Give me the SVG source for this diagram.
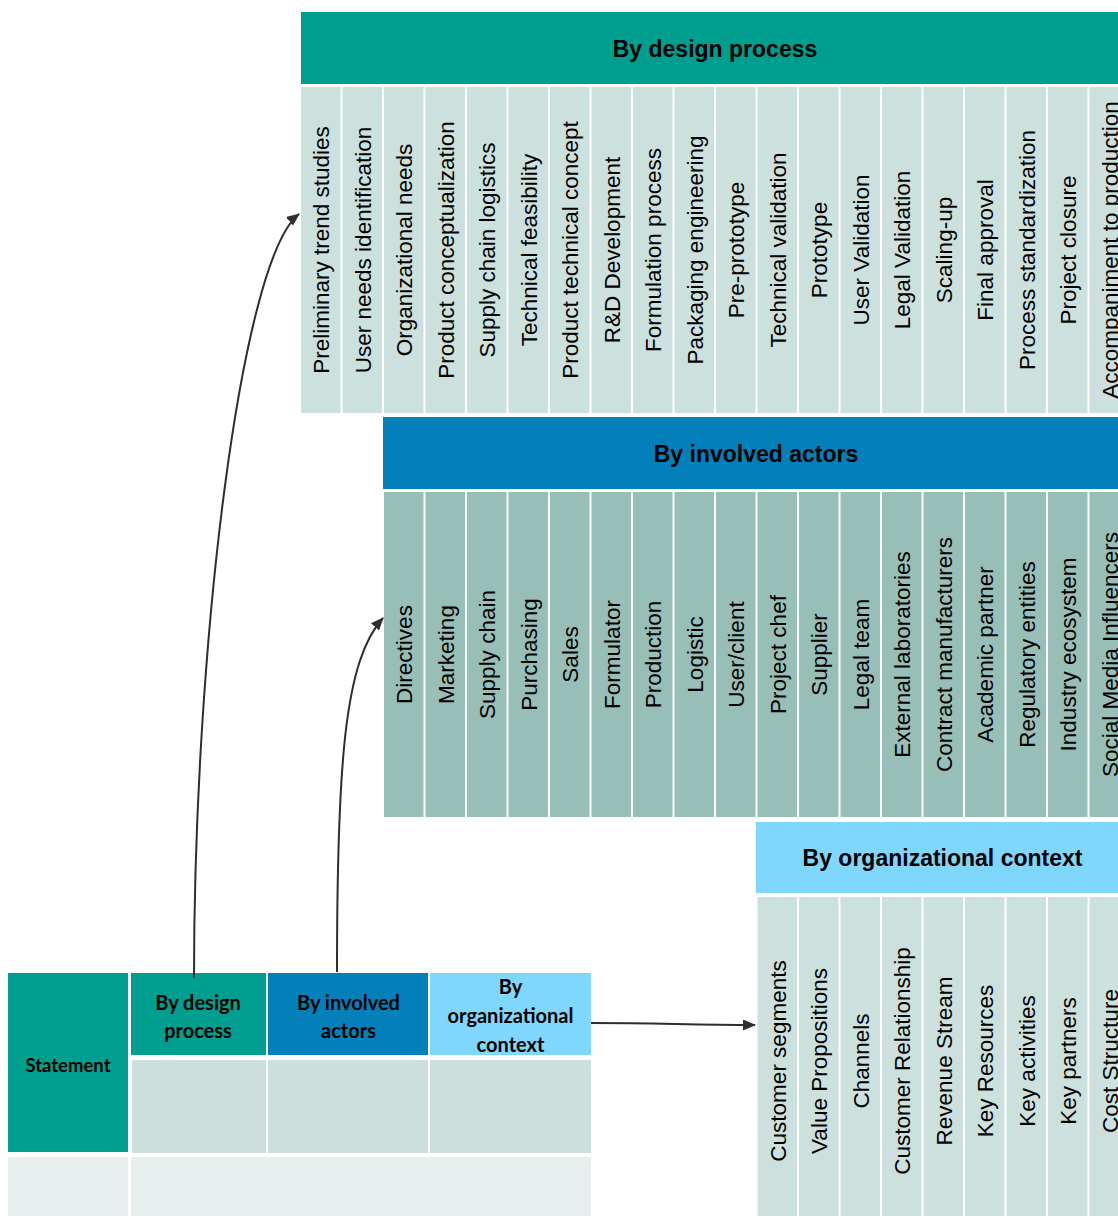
<svg xmlns="http://www.w3.org/2000/svg" width="1118" height="1216" viewBox="0 0 1118 1216">
<defs>
<style>
.hd{font-family:"Liberation Sans",Arial,sans-serif;font-weight:bold;font-size:23px;fill:#000;text-anchor:middle}
.col{font-family:"Liberation Sans",Arial,sans-serif;font-size:22.5px;fill:#000;text-anchor:middle}
.tb{font-family:Lato,"Liberation Sans",sans-serif;font-weight:bold;font-size:20px;fill:#000;text-anchor:middle}
.lc{fill:#CCE0DD}
.dc{fill:#97BFB8}
.conn{fill:none;stroke:#2e2e2e;stroke-width:2}
</style>
<marker id="ah" markerUnits="userSpaceOnUse" markerWidth="13" markerHeight="11" refX="12" refY="5.5" orient="auto">
<path d="M0,0 L13,5.5 L0,11 z" fill="#2e2e2e"/>
</marker>
</defs>
<rect width="1118" height="1216" fill="#fff"/>

<g id="design-process">
<rect x="301" y="12" width="830" height="72" fill="#009E8F"/>
<text class="hd" x="715" y="56.5">By design process</text>
<g transform="translate(301,0)"><rect class="lc" x="0" y="87" width="39.5" height="326"/><text class="col" transform="translate(28,250) rotate(-90)">Preliminary trend studies</text></g>
<g transform="translate(342.5,0)"><rect class="lc" x="0" y="87" width="39.5" height="326"/><text class="col" transform="translate(28,250) rotate(-90)">User needs identification</text></g>
<g transform="translate(384,0)"><rect class="lc" x="0" y="87" width="39.5" height="326"/><text class="col" transform="translate(28,250) rotate(-90)">Organizational needs</text></g>
<g transform="translate(425.5,0)"><rect class="lc" x="0" y="87" width="39.5" height="326"/><text class="col" transform="translate(28,250) rotate(-90)">Product conceptualization</text></g>
<g transform="translate(467,0)"><rect class="lc" x="0" y="87" width="39.5" height="326"/><text class="col" transform="translate(28,250) rotate(-90)">Supply chain logistics</text></g>
<g transform="translate(508.5,0)"><rect class="lc" x="0" y="87" width="39.5" height="326"/><text class="col" transform="translate(28,250) rotate(-90)">Technical feasibility</text></g>
<g transform="translate(550,0)"><rect class="lc" x="0" y="87" width="39.5" height="326"/><text class="col" transform="translate(28,250) rotate(-90)">Product technical concept</text></g>
<g transform="translate(591.5,0)"><rect class="lc" x="0" y="87" width="39.5" height="326"/><text class="col" transform="translate(28,250) rotate(-90)">R&amp;D Development</text></g>
<g transform="translate(633,0)"><rect class="lc" x="0" y="87" width="39.5" height="326"/><text class="col" transform="translate(28,250) rotate(-90)">Formulation process</text></g>
<g transform="translate(674.5,0)"><rect class="lc" x="0" y="87" width="39.5" height="326"/><text class="col" transform="translate(28,250) rotate(-90)">Packaging engineering</text></g>
<g transform="translate(716,0)"><rect class="lc" x="0" y="87" width="39.5" height="326"/><text class="col" transform="translate(28,250) rotate(-90)">Pre-prototype</text></g>
<g transform="translate(757.5,0)"><rect class="lc" x="0" y="87" width="39.5" height="326"/><text class="col" transform="translate(28,250) rotate(-90)">Technical validation</text></g>
<g transform="translate(799,0)"><rect class="lc" x="0" y="87" width="39.5" height="326"/><text class="col" transform="translate(28,250) rotate(-90)">Prototype</text></g>
<g transform="translate(840.5,0)"><rect class="lc" x="0" y="87" width="39.5" height="326"/><text class="col" transform="translate(28,250) rotate(-90)">User Validation</text></g>
<g transform="translate(882,0)"><rect class="lc" x="0" y="87" width="39.5" height="326"/><text class="col" transform="translate(28,250) rotate(-90)">Legal Validation</text></g>
<g transform="translate(923.5,0)"><rect class="lc" x="0" y="87" width="39.5" height="326"/><text class="col" transform="translate(28,250) rotate(-90)">Scaling-up</text></g>
<g transform="translate(965,0)"><rect class="lc" x="0" y="87" width="39.5" height="326"/><text class="col" transform="translate(28,250) rotate(-90)">Final approval</text></g>
<g transform="translate(1006.5,0)"><rect class="lc" x="0" y="87" width="39.5" height="326"/><text class="col" transform="translate(28,250) rotate(-90)">Process standardization</text></g>
<g transform="translate(1048,0)"><rect class="lc" x="0" y="87" width="39.5" height="326"/><text class="col" transform="translate(28,250) rotate(-90)">Project closure</text></g>
<g transform="translate(1089.5,0)"><rect class="lc" x="0" y="87" width="39.5" height="326"/><text class="col" transform="translate(28,250) rotate(-90)">Accompaniment to production</text></g>
</g>

<g id="involved-actors">
<rect x="383" y="417" width="750" height="72" fill="#0380B9"/>
<text class="hd" x="756" y="461.5">By involved actors</text>
<g transform="translate(384,0)"><rect class="dc" x="0" y="492" width="39.5" height="325"/><text class="col" transform="translate(28,654.5) rotate(-90)">Directives</text></g>
<g transform="translate(425.5,0)"><rect class="dc" x="0" y="492" width="39.5" height="325"/><text class="col" transform="translate(28,654.5) rotate(-90)">Marketing</text></g>
<g transform="translate(467,0)"><rect class="dc" x="0" y="492" width="39.5" height="325"/><text class="col" transform="translate(28,654.5) rotate(-90)">Supply chain</text></g>
<g transform="translate(508.5,0)"><rect class="dc" x="0" y="492" width="39.5" height="325"/><text class="col" transform="translate(28,654.5) rotate(-90)">Purchasing</text></g>
<g transform="translate(550,0)"><rect class="dc" x="0" y="492" width="39.5" height="325"/><text class="col" transform="translate(28,654.5) rotate(-90)">Sales</text></g>
<g transform="translate(591.5,0)"><rect class="dc" x="0" y="492" width="39.5" height="325"/><text class="col" transform="translate(28,654.5) rotate(-90)">Formulator</text></g>
<g transform="translate(633,0)"><rect class="dc" x="0" y="492" width="39.5" height="325"/><text class="col" transform="translate(28,654.5) rotate(-90)">Production</text></g>
<g transform="translate(674.5,0)"><rect class="dc" x="0" y="492" width="39.5" height="325"/><text class="col" transform="translate(28,654.5) rotate(-90)">Logistic</text></g>
<g transform="translate(716,0)"><rect class="dc" x="0" y="492" width="39.5" height="325"/><text class="col" transform="translate(28,654.5) rotate(-90)">User/client</text></g>
<g transform="translate(757.5,0)"><rect class="dc" x="0" y="492" width="39.5" height="325"/><text class="col" transform="translate(28,654.5) rotate(-90)">Project chef</text></g>
<g transform="translate(799,0)"><rect class="dc" x="0" y="492" width="39.5" height="325"/><text class="col" transform="translate(28,654.5) rotate(-90)">Supplier</text></g>
<g transform="translate(840.5,0)"><rect class="dc" x="0" y="492" width="39.5" height="325"/><text class="col" transform="translate(28,654.5) rotate(-90)">Legal team</text></g>
<g transform="translate(882,0)"><rect class="dc" x="0" y="492" width="39.5" height="325"/><text class="col" transform="translate(28,654.5) rotate(-90)">External laboratories</text></g>
<g transform="translate(923.5,0)"><rect class="dc" x="0" y="492" width="39.5" height="325"/><text class="col" transform="translate(28,654.5) rotate(-90)">Contract manufacturers</text></g>
<g transform="translate(965,0)"><rect class="dc" x="0" y="492" width="39.5" height="325"/><text class="col" transform="translate(28,654.5) rotate(-90)">Academic partner</text></g>
<g transform="translate(1006.5,0)"><rect class="dc" x="0" y="492" width="39.5" height="325"/><text class="col" transform="translate(28,654.5) rotate(-90)">Regulatory entities</text></g>
<g transform="translate(1048,0)"><rect class="dc" x="0" y="492" width="39.5" height="325"/><text class="col" transform="translate(28,654.5) rotate(-90)">Industry ecosystem</text></g>
<g transform="translate(1089.5,0)"><rect class="dc" x="0" y="492" width="39.5" height="325"/><text class="col" transform="translate(28,654.5) rotate(-90)">Social Media Influencers</text></g>
</g>

<g id="organizational-context">
<rect x="756" y="822" width="380" height="71" fill="#80D7FE"/>
<text class="hd" x="942.5" y="865.5">By organizational context</text>
<g transform="translate(757.5,0)"><rect class="lc" x="0" y="897" width="39.5" height="330"/><text class="col" transform="translate(28,1061) rotate(-90)">Customer segments</text></g>
<g transform="translate(799,0)"><rect class="lc" x="0" y="897" width="39.5" height="330"/><text class="col" transform="translate(28,1061) rotate(-90)">Value Propositions</text></g>
<g transform="translate(840.5,0)"><rect class="lc" x="0" y="897" width="39.5" height="330"/><text class="col" transform="translate(28,1061) rotate(-90)">Channels</text></g>
<g transform="translate(882,0)"><rect class="lc" x="0" y="897" width="39.5" height="330"/><text class="col" transform="translate(28,1061) rotate(-90)">Customer Relationship</text></g>
<g transform="translate(923.5,0)"><rect class="lc" x="0" y="897" width="39.5" height="330"/><text class="col" transform="translate(28,1061) rotate(-90)">Revenue Stream</text></g>
<g transform="translate(965,0)"><rect class="lc" x="0" y="897" width="39.5" height="330"/><text class="col" transform="translate(28,1061) rotate(-90)">Key Resources</text></g>
<g transform="translate(1006.5,0)"><rect class="lc" x="0" y="897" width="39.5" height="330"/><text class="col" transform="translate(28,1061) rotate(-90)">Key activities</text></g>
<g transform="translate(1048,0)"><rect class="lc" x="0" y="897" width="39.5" height="330"/><text class="col" transform="translate(28,1061) rotate(-90)">Key partners</text></g>
<g transform="translate(1089.5,0)"><rect class="lc" x="0" y="897" width="39.5" height="330"/><text class="col" transform="translate(28,1061) rotate(-90)">Cost Structure</text></g>
</g>

<g id="statement-table">
<g id="statement"><rect x="8" y="973" width="120" height="179" fill="#009E8F"/><text class="tb" x="68" y="1071.5" style="font-size:18.5px">Statement</text></g>
<g id="cell-design"><rect x="131" y="973" width="135" height="82" fill="#009E8F"/><text class="tb" x="198" y="1010">By design</text><text class="tb" x="198" y="1037.5">process</text></g>
<g id="cell-actors"><rect x="268" y="973" width="160" height="82" fill="#0380B9"/><text class="tb" x="348.5" y="1010">By involved</text><text class="tb" x="348.5" y="1037.5">actors</text></g>
<g id="cell-org"><rect x="430" y="973" width="161" height="82" fill="#80D7FE"/><text class="tb" x="510.5" y="994">By</text><text class="tb" x="510.5" y="1023">organizational</text><text class="tb" x="510.5" y="1052">context</text></g>
<rect x="132" y="1060" width="134" height="93" fill="#CCDFDC"/>
<rect x="268" y="1060" width="160" height="93" fill="#CCDFDC"/>
<rect x="430" y="1060" width="161" height="93" fill="#CCDFDC"/>
<rect x="8" y="1157" width="120" height="60" fill="#E6EFEE"/>
<rect x="131" y="1157" width="460" height="60" fill="#E6EFEE"/>
</g>

<g id="connectors">
<path class="conn" d="M194,978 C194,650 240,260 299,214" marker-end="url(#ah)"/>
<path class="conn" d="M337,972 C337,760 345,660 383,618" marker-end="url(#ah)"/>
<path class="conn" d="M591,1023 C660,1023 690,1025 755,1025" marker-end="url(#ah)"/>
</g>
</svg>
